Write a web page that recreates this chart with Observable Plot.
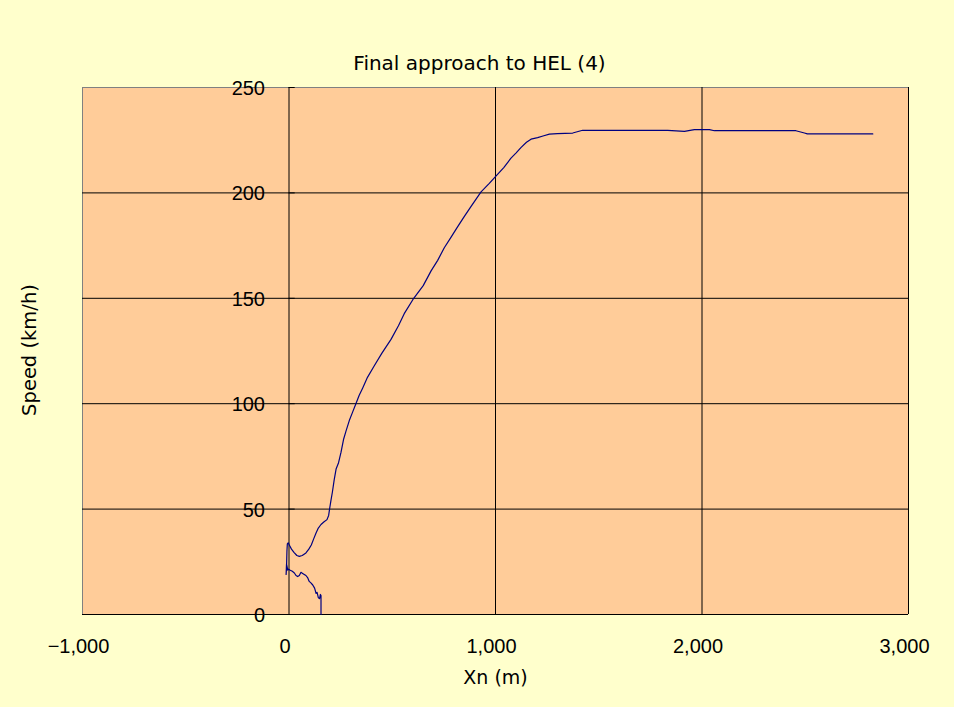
<!DOCTYPE html>
<html>
<head>
<meta charset="utf-8">
<script src="https://cdn.jsdelivr.net/npm/d3@7"></script>
<script src="https://cdn.jsdelivr.net/npm/@observablehq/plot@0.6"></script>
<style>
  html, body { margin: 0; padding: 0; background: #FFFFCC; }
  #chart { width: 954px; height: 707px; }
</style>
</head>
<body>
<div id="chart"></div>
<script>
const titleText = "Final approach to HEL (4)";
const xLabel = "Xn (m)";
const yLabel = "Speed (km/h)";
const xTicks = [-1000, 0, 1000, 2000, 3000];
const yTicks = [0, 50, 100, 150, 200, 250];

// trace, in drawing order
const xn = [155, 155, 152, 148, 142, 136, 131, 124, 115, 106, 98, 90, 82, 74, 66, 58, 50, 42, 34, 26, 16, 6, -2, -6, -12, -14, -12, -10, -8, -4, 4, 12, 24, 38, 50, 64, 82, 96, 108, 120, 131, 142, 155, 170, 184, 192, 198, 203, 210, 219, 228, 240, 252, 264, 276, 292, 308, 324, 340, 357, 380, 413, 450, 494, 530, 558, 604, 650, 688, 720, 752, 785, 817, 850, 881, 930, 970, 1002, 1040, 1075, 1100, 1123, 1150, 1172, 1204, 1230, 1261, 1300, 1374, 1422, 1500, 1600, 1700, 1834, 1915, 1963, 2036, 2060, 2189, 2300, 2455, 2496, 2510, 2600, 2700, 2827];
const speed = [0, 9, 9.5, 7.5, 8, 10.5, 10, 12.5, 14, 15, 15.7, 17.5, 18.5, 19, 19.5, 20, 18.5, 18, 18.5, 19.7, 20.5, 21, 21.5, 21, 24, 19, 22, 30, 33.5, 34, 32.5, 31, 29.5, 28, 27.6, 28, 29.2, 31, 33, 36, 38.7, 41, 42.7, 44, 45, 47, 51, 54, 58, 64, 69, 72, 77, 83, 87, 92, 96, 100, 104, 107.5, 112.5, 118, 124, 130.5, 137, 142.7, 150, 156, 163, 168, 174, 179, 184, 189, 193.5, 200.5, 204.5, 208, 212, 216.5, 219, 221.5, 224, 225.5, 226.2, 227, 227.9, 228.1, 228.4, 229.7, 229.7, 229.7, 229.7, 229.7, 229.2, 230, 230, 229.5, 229.5, 229.5, 229.5, 228.4, 228, 228, 228, 228];

const trace = xn.map((x, i) => ({x, y: speed[i]}));
const fmt = d3.format(",");
const font = "'Liberation Sans', Arial, sans-serif";
const labelFont = "'DejaVu Sans', sans-serif";

const chart = Plot.plot({
  width: 954,
  height: 707,
  marginLeft: 82,
  marginRight: 46,
  marginTop: 87,
  marginBottom: 93,
  style: {background: "transparent", fontFamily: font},
  x: {domain: [-1000, 3000], axis: null},
  y: {domain: [0, 250], axis: null},
  marks: [
    Plot.frame({fill: "#FFCC99", stroke: null}),
    Plot.ruleX([-1000], {stroke: "#808080", strokeWidth: 1}),
    Plot.ruleY([250], {stroke: "#808080", strokeWidth: 1}),
    Plot.ruleX(xTicks.filter(d => d > -1000), {stroke: "#000", strokeWidth: 1}),
    Plot.ruleY(yTicks.filter(d => d < 250), {stroke: "#000", strokeWidth: 1}),
    Plot.ruleY(yTicks, {x1: 0, x2: 30, stroke: "#000", strokeWidth: 1}),
    Plot.line(trace, {x: "x", y: "y", stroke: "#000080", strokeWidth: 1.2, curve: "linear"}),
    Plot.text(yTicks, {x: () => 0, y: d => d, text: d => fmt(d), textAnchor: "end", lineAnchor: "middle", dx: -24, dy: 1, fontSize: 20, fill: "#000"}),
    Plot.text(xTicks, {x: d => d, frameAnchor: "bottom", text: d => fmt(d), lineAnchor: "middle", dx: -4, dy: 32, fontSize: 20, fill: "#000"}),
    Plot.text([titleText], {frameAnchor: "top", text: d => d, textAnchor: "middle", lineAnchor: "middle", dx: -16, dy: -24, fontSize: 20, fontFamily: labelFont, fill: "#000"}),
    Plot.text([xLabel], {frameAnchor: "bottom", text: d => d, textAnchor: "middle", lineAnchor: "middle", dy: 63, fontSize: 19, fontFamily: labelFont, fill: "#000"}),
    Plot.text([yLabel], {frameAnchor: "left", text: d => d, textAnchor: "middle", lineAnchor: "middle", rotate: -90, dx: -53, dy: -1, fontSize: 19.5, fontFamily: labelFont, fill: "#000"})
  ]
});
document.getElementById("chart").appendChild(chart);
</script>
</body>
</html>
